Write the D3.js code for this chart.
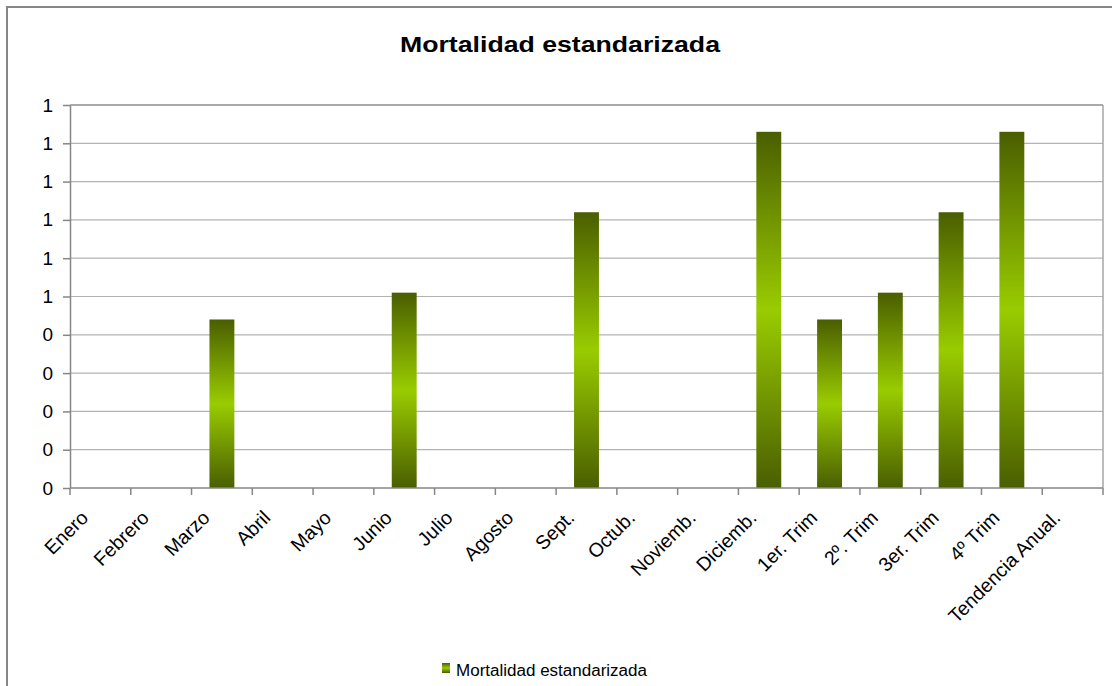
<!DOCTYPE html>
<html>
<head>
<meta charset="utf-8">
<script src="https://cdn.jsdelivr.net/npm/d3@7"></script>
<style>
  body { margin: 0; background: #fff; }
  svg { display: block; font-family: "Liberation Sans", Arial, sans-serif; }
  .axis path, .axis line { stroke: #868686; stroke-width: 1.5; }
  .axis text { fill: #000; }
</style>
</head>
<body>
<svg id="chart" width="1112" height="686"></svg>
<script>
// data
const categories = ["Enero", "Febrero", "Marzo", "Abril", "Mayo", "Junio", "Julio", "Agosto",
  "Sept.", "Octub.", "Noviemb.", "Diciemb.", "1er. Trim", "2º. Trim", "3er. Trim", "4º Trim",
  "Tendencia Anual."];
const values = [0, 0, 0.44, 0, 0, 0.51, 0, 0, 0.72, 0, 0, 0.93, 0.44, 0.51, 0.72, 0.93, 0];
const yTickValues = [0, 0.1, 0.2, 0.3, 0.4, 0.5, 0.6, 0.7, 0.8, 0.9, 1];
const yTickLabels = ["0", "0", "0", "0", "0", "1", "1", "1", "1", "1", "1"];
const seriesName = "Mortalidad estandarizada";
const titleText = "Mortalidad estandarizada";

const svg = d3.select("#chart");
const margin = {top: 105, left: 70};
const innerWidth = 1033, innerHeight = 383;

// outer chart border: only left and top edges are visible in the picture
svg.append("path")
  .attr("d", "M7,686 V7 H1112")
  .attr("fill", "none").attr("stroke", "#868686").attr("stroke-width", 2);

const defs = svg.append("defs");
const grad = defs.append("linearGradient")
  .attr("id", "barGrad").attr("x1", 0).attr("y1", 0).attr("x2", 0).attr("y2", 1);
grad.append("stop").attr("offset", "0%").attr("stop-color", "#4a5e00");
grad.append("stop").attr("offset", "50%").attr("stop-color", "#99cc00");
grad.append("stop").attr("offset", "100%").attr("stop-color", "#4a5e00");

svg.append("text")
  .attr("x", 560).attr("y", 52)
  .attr("text-anchor", "middle")
  .attr("font-size", 22).attr("font-weight", "bold")
  .attr("textLength", 320).attr("lengthAdjust", "spacingAndGlyphs")
  .text(titleText);

const g = svg.append("g").attr("transform", `translate(${margin.left},${margin.top})`);

const x = d3.scaleBand().domain(categories).range([0, innerWidth]).padding(0);
const xBar = d3.scaleBand().domain(categories).range([0, innerWidth])
  .paddingInner(0.59).paddingOuter(0.295);
const y = d3.scaleLinear().domain([0, 1]).range([innerHeight, 0]);

// gridlines
g.append("g")
  .selectAll("line")
  .data(yTickValues.slice(1))
  .join("line")
  .attr("x1", 0).attr("x2", innerWidth)
  .attr("y1", d => y(d)).attr("y2", d => y(d))
  .attr("stroke", "#b3b3b3").attr("stroke-width", 1.2);

// plot area border (top and right)
g.append("line")
  .attr("x1", innerWidth).attr("x2", innerWidth)
  .attr("y1", 0).attr("y2", innerHeight)
  .attr("stroke", "#a6a6a6").attr("stroke-width", 1.5);
g.append("line")
  .attr("x1", 0).attr("x2", innerWidth)
  .attr("y1", 0).attr("y2", 0)
  .attr("stroke", "#999").attr("stroke-width", 1.5);

// bars
g.selectAll(".bar")
  .data(values.map((v, i) => ({cat: categories[i], v})).filter(d => d.v > 0))
  .join("rect")
  .attr("class", "bar")
  .attr("x", d => xBar(d.cat))
  .attr("width", xBar.bandwidth())
  .attr("y", d => y(d.v))
  .attr("height", d => innerHeight - y(d.v))
  .attr("fill", "url(#barGrad)");

// y axis
const yAxis = d3.axisLeft(y).tickValues(yTickValues)
  .tickFormat((d, i) => yTickLabels[i]).tickSize(7).tickPadding(10).tickSizeOuter(0);
g.append("g").attr("class", "axis")
  .call(yAxis)
  .selectAll("text").attr("font-size", 19);

// x axis: ticks on band edges
const xAxisG = g.append("g").attr("class", "axis")
  .attr("transform", `translate(0,${innerHeight})`);
xAxisG.append("line").attr("x1", 0).attr("x2", innerWidth).attr("y1", 0).attr("y2", 0);
xAxisG.selectAll(".tk")
  .data(d3.range(categories.length + 1))
  .join("line")
  .attr("class", "tk")
  .attr("x1", i => i * x.step()).attr("x2", i => i * x.step())
  .attr("y1", 0).attr("y2", 7);
xAxisG.selectAll(".lbl")
  .data(categories)
  .join("text")
  .attr("class", "lbl")
  .attr("font-size", 19.5)
  .attr("text-anchor", "end")
  .attr("transform", d => `translate(${x(d) + x.bandwidth() / 2 - 11},31) rotate(-45)`)
  .text(d => d);

// legend
const legend = svg.append("g").attr("transform", "translate(442,663)");
legend.append("rect").attr("width", 8).attr("height", 10).attr("fill", "url(#barGrad)");
legend.append("text")
  .attr("x", 14).attr("y", 13)
  .attr("font-size", 16)
  .attr("textLength", 191).attr("lengthAdjust", "spacingAndGlyphs")
  .text(seriesName);
</script>
</body>
</html>
